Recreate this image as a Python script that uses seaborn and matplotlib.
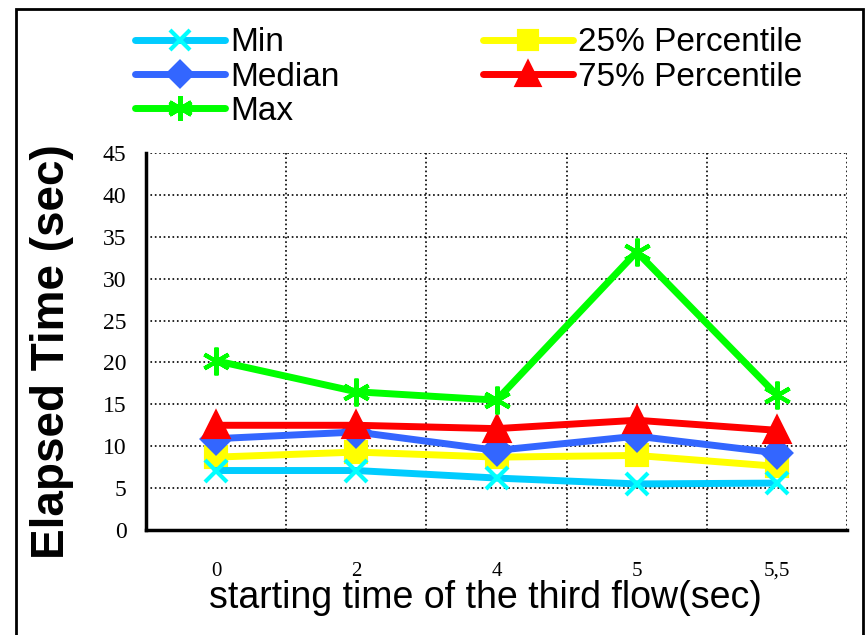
import pandas as pd
import matplotlib
matplotlib.use("Agg")
import matplotlib.pyplot as plt
import seaborn as sns
from matplotlib.patches import Rectangle

# values
start_times = ["0", "2", "4", "5", "5,5"]
min_vals = [7.1, 7.1, 6.2, 5.5, 5.6]
median_vals = [10.9, 11.7, 9.5, 11.2, 9.2]
max_vals = [20.2, 16.5, 15.5, 33.2, 16.1]
p25_vals = [8.7, 9.3, 8.7, 8.9, 7.6]
p75_vals = [12.5, 12.5, 12.1, 13.1, 11.9]

series = [
    ("Min", min_vals, "#00CCFF", "x", "#00FFFF", 16),
    ("Median", median_vals, "#3366FF", "D", "#3366FF", 14),
    ("Max", max_vals, "#00FF00", (6, 2, 0), "#00FF00", 20),
    ("25% Percentile", p25_vals, "#FFFF00", "s", "#FFFF00", 14),
    ("75% Percentile", p75_vals, "#FF0000", "^", "#FF0000", 17),
]

sns.set_style("white")
plt.rcParams["font.family"] = ["Liberation Sans", "DejaVu Sans"]
plt.rcParams["text.color"] = "black"
plt.rcParams["xtick.color"] = "black"
plt.rcParams["ytick.color"] = "black"

fig = plt.figure(figsize=(8.66, 6.35), dpi=100)
ax = fig.add_axes([146 / 866, 1 - 530 / 635, 701 / 866, 377 / 635])

pos = list(range(len(start_times)))
draw_order = [3, 0, 1, 4, 2]  # so markers stack like the original
for i in draw_order:
    name, vals, col, mk, mcol, ms = series[i]
    df = pd.DataFrame({"x": pos, "y": vals})
    sns.lineplot(data=df, x="x", y="y", ax=ax, color=col, linewidth=5,
                 marker=mk, markersize=ms, markerfacecolor=mcol,
                 markeredgecolor=mcol, markeredgewidth=3,
                 solid_capstyle="round", label=name, legend=False)

ax.set_xlim(-0.5, len(start_times) - 0.5)
ax.set_ylim(0, 45)
ax.set_yticks(range(0, 46, 5))
ax.set_xticks([p - 0.5 for p in range(len(start_times) + 1)])
ax.set_xticklabels([])
ax.set_xticks(pos, minor=True)
ax.set_xticklabels(start_times, minor=True, family="Liberation Serif", fontsize=15)
ax.tick_params(axis="x", which="minor", length=0, pad=23, labelcolor="black")
ax.tick_params(axis="x", which="major", length=6, width=1.5, direction="out", color="black")
ax.tick_params(axis="y", length=6, width=1.5, direction="out", color="black", pad=8,
               labelcolor="black")
for lbl in ax.get_yticklabels():
    lbl.set_family("Liberation Serif")
    lbl.set_fontsize(17)

ax.grid(True, which="major", color="black", linestyle=":", linewidth=1.2)
for s in ["top", "right"]:
    ax.spines[s].set_visible(False)
for s in ["left", "bottom"]:
    ax.spines[s].set_color("black")
    ax.spines[s].set_linewidth(2.5)
ax.set_xlabel("")
ax.set_ylabel("")

fig.text(485 / 866, 1 - 598 / 635, "starting time of the third flow(sec)",
         ha="center", va="center", fontsize=27, color="black")
fig.text(52 / 866, 1 - 352 / 635, "Elapsed Time (sec)", rotation=90,
         ha="center", va="center", fontsize=33, fontweight="bold", color="black")

handles = {h.get_label(): h for h in ax.get_lines() if not h.get_label().startswith("_")}
names = [s[0] for s in series]
leg = fig.legend([handles[n] for n in names], names, loc="upper left",
                 bbox_to_anchor=(112 / 866, 1 - 4 / 635), ncol=2, frameon=False,
                 fontsize=24, handlelength=2.7, handletextpad=0.15,
                 labelspacing=0.1, columnspacing=4.3, borderpad=0.2,
                 labelcolor="black")
for h in leg.legend_handles:
    h.set_markersize(h.get_markersize() * 0.9)

fig.add_artist(Rectangle((16 / 866, -0.02), 847 / 866, 1 - 9 / 635 + 0.02,
                         transform=fig.transFigure, fill=False,
                         edgecolor="black", linewidth=2))

fig.savefig("out.png", dpi=100)
